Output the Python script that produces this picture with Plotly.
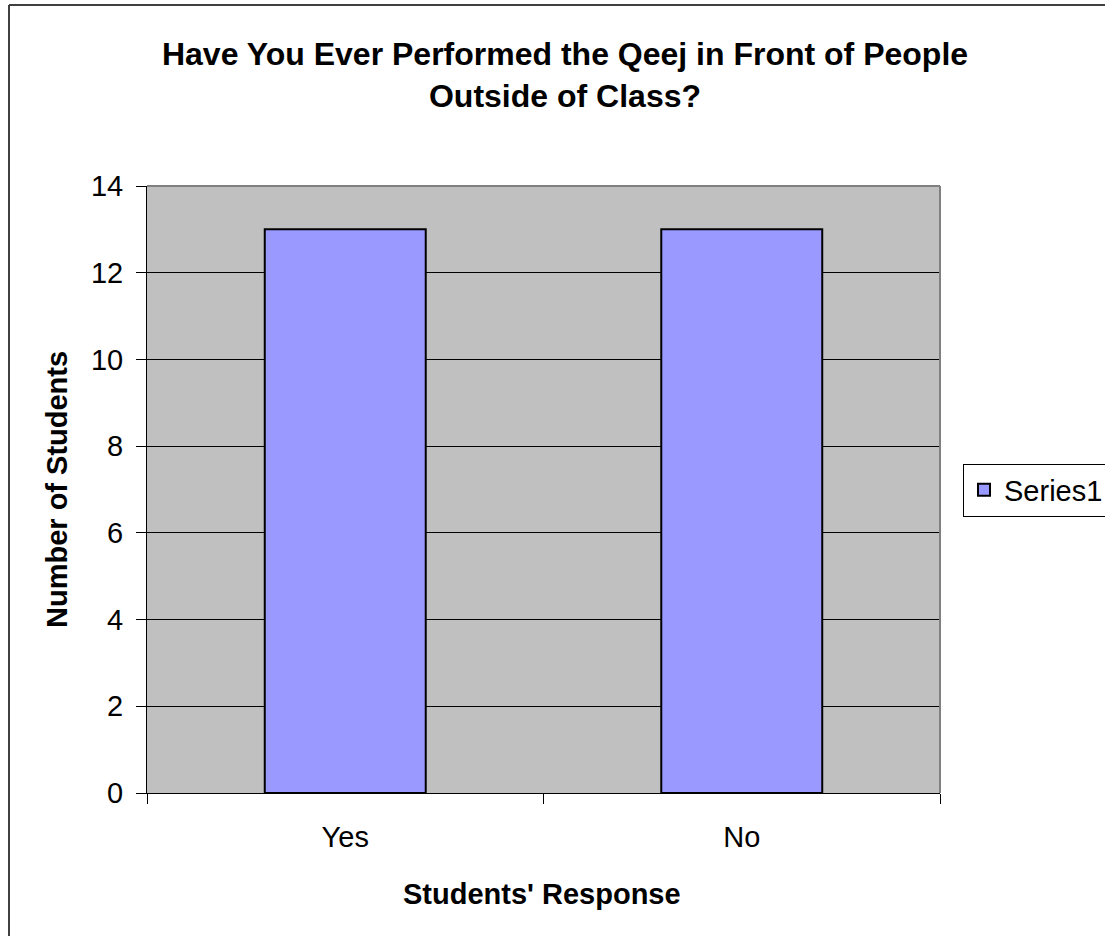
import plotly.graph_objects as go

categories = ["Yes", "No"]
values = [13, 13]
series_name = "Series1"
y_ticks = [0, 2, 4, 6, 8, 10, 12, 14]

W, H = 1140, 936
L, R, T, B = 147, 940, 186, 793

def px_x(p):
    return (p - L) / (R - L)

def px_y(p):
    return (B - p) / (B - T)

FONT = "Liberation Sans, Arial, sans-serif"

fig = go.Figure()
fig.add_trace(go.Bar(
    x=categories, y=values, name=series_name,
    marker=dict(color="#9999FF", line=dict(color="black", width=2)),
    width=0.406, showlegend=True,
))

fig.update_layout(
    width=W, height=H,
    margin=dict(l=L, r=W - R, t=T, b=H - B),
    paper_bgcolor="white", plot_bgcolor="#C0C0C0",
    font=dict(family=FONT, color="black", size=29),
    title=dict(
        text="<b>Have You Ever Performed the Qeej in Front of People<br>Outside of Class?</b>",
        x=px_x(565), xanchor="center", xref="paper",
        y=1 - 65 / H, yanchor="top", yref="container",
        font=dict(size=32, family=FONT),
    ),
    showlegend=True,
    legend=dict(
        x=px_x(963), xanchor="left", xref="paper",
        y=px_y(490), yanchor="middle", yref="paper",
        bgcolor="white", bordercolor="black", borderwidth=1,
        font=dict(size=29, family=FONT),
    ),
)

fig.update_xaxes(
    type="category", showgrid=False, showline=True, linecolor="black", linewidth=1,
    ticks="outside", tickson="boundaries", ticklen=10, tickcolor="black",
    tickfont=dict(size=29), ticklabelstandoff=18,
)
fig.update_yaxes(
    range=[0, 14], tickvals=y_ticks, showgrid=True, gridcolor="black", gridwidth=1,
    showline=True, linecolor="black", linewidth=1, zeroline=False,
    ticks="outside", ticklen=10, tickcolor="black",
    tickfont=dict(size=29), ticklabelstandoff=7,
)

# plot area top/right border (gray)
fig.add_shape(type="line", xref="paper", yref="paper", x0=0, x1=1, y0=1, y1=1,
              line=dict(color="#808080", width=2), layer="above")
fig.add_shape(type="line", xref="paper", yref="paper", x0=1, x1=1, y0=0, y1=1,
              line=dict(color="#808080", width=2), layer="above")
# chart area outer border
fig.add_shape(type="line", xref="paper", yref="paper",
              x0=px_x(9), x1=px_x(1300), y0=px_y(5), y1=px_y(5),
              line=dict(color="#404040", width=2))
fig.add_shape(type="line", xref="paper", yref="paper",
              x0=px_x(9), x1=px_x(9), y0=px_y(5), y1=px_y(1000),
              line=dict(color="#404040", width=2))

fig.add_annotation(text="<b>Number of Students</b>", textangle=-90,
                   x=px_x(57), y=px_y(490), xref="paper", yref="paper",
                   xanchor="center", yanchor="middle",
                   showarrow=False, font=dict(size=29, family=FONT))
fig.add_annotation(text="<b>Students' Response</b>",
                   x=px_x(542), y=px_y(894), xref="paper", yref="paper",
                   xanchor="center", yanchor="middle",
                   showarrow=False, font=dict(size=29, family=FONT))

fig.write_html(
    "out.html",
    config={"displayModeBar": False},
    post_script="document.body.style.margin='0';document.body.style.overflow='hidden';",
)
